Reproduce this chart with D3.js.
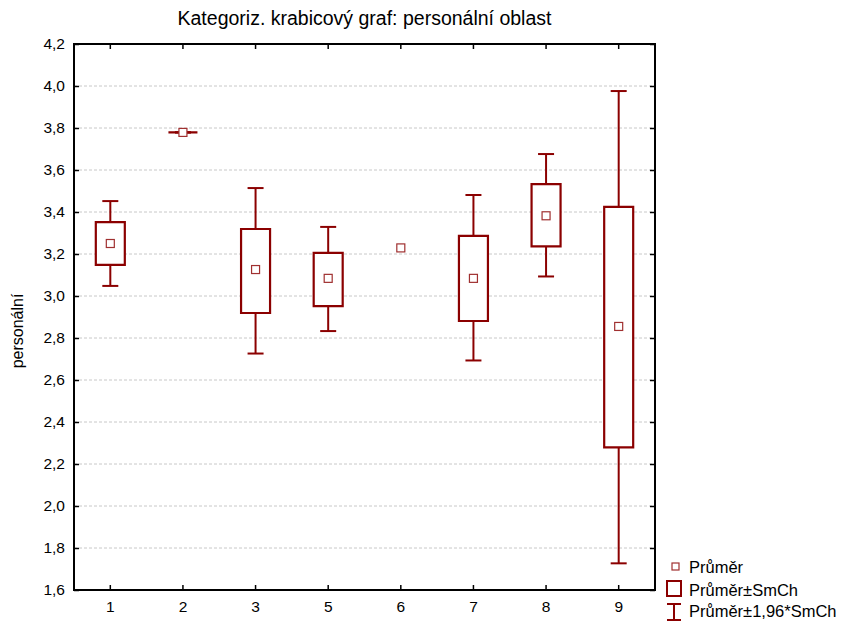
<!DOCTYPE html>
<html><head><meta charset="utf-8">
<script src="https://cdn.jsdelivr.net/npm/d3@7"></script>
<style>body{margin:0;background:#fff}svg{display:block}text{font-family:"Liberation Sans",Arial,sans-serif}</style>
</head><body>
<svg id="c" width="844" height="623"></svg>
<script>
const categories = ["1","2","3","5","6","7","8","9"];
const means   = [3.250, 3.779, 3.126, 3.084, 3.229, 3.084, 3.382, 2.855];
const seLow   = [3.148, 3.779, 2.919, 2.952, null, 2.881, 3.236, 2.279];
const seHigh  = [3.352, 3.779, 3.319, 3.205, null, 3.286, 3.533, 3.424];
const ciLow   = [3.048, 3.779, 2.726, 2.833, null, 2.693, 3.093, 1.727];
const ciHigh  = [3.452, 3.779, 3.514, 3.329, null, 3.481, 3.676, 3.976];
const yTicks  = [1.6,1.8,2.0,2.2,2.4,2.6,2.8,3.0,3.2,3.4,3.6,3.8,4.0,4.2];
const legendLabels = ["Průměr","Průměr±SmCh","Průměr±1,96*SmCh"];

const col = "#8b0000";
const svg = d3.select("#c");
const L=74, R=655, T=44, B=590;
const x = d3.scaleBand().domain(categories).range([L,R]);
const y = d3.scaleLinear().domain([1.6,4.2]).range([B,T]);
const fmt = d => d.toFixed(1).replace(".",",");

// gridlines
svg.append("g").selectAll("line").data(yTicks.slice(1,-1)).join("line")
  .attr("x1",L).attr("x2",R).attr("y1",d=>y(d)).attr("y2",d=>y(d))
  .attr("stroke","#c8c8c8").attr("stroke-width",1).attr("stroke-dasharray","3,2");

// axes (ticks inside)
const ax = (g)=>g.attr("font-family",null).attr("font-size",null)
  .call(s=>s.select(".domain").remove())
  .call(s=>s.selectAll("text").style("font-size","15.5px").attr("fill","#000"))
  .call(s=>s.selectAll("line").attr("stroke","#000").attr("stroke-width",1.5));
svg.append("g").attr("transform",`translate(${L},0)`)
  .call(d3.axisLeft(y).tickValues(yTicks).tickFormat(fmt).tickSizeInner(-5).tickSizeOuter(0).tickPadding(9))
  .call(ax);
svg.append("g").attr("transform",`translate(${R},0)`)
  .call(d3.axisRight(y).tickValues(yTicks).tickFormat("").tickSizeInner(-5).tickSizeOuter(0))
  .call(ax);
svg.append("g").attr("transform",`translate(0,${B})`)
  .call(d3.axisBottom(x).tickSizeInner(-5).tickSizeOuter(0).tickPadding(11))
  .call(ax);
svg.append("g").attr("transform",`translate(0,${T})`)
  .call(d3.axisTop(x).tickFormat("").tickSizeInner(-5).tickSizeOuter(0))
  .call(ax);
svg.append("rect").attr("x",L).attr("y",T).attr("width",R-L).attr("height",B-T)
  .attr("fill","none").attr("stroke","#000").attr("stroke-width",2);

// boxes
const boxW = 29, capW = 16, mk = 8;
const data = categories.map((c,i)=>({c,m:means[i],sl:seLow[i],sh:seHigh[i],cl:ciLow[i],ch:ciHigh[i]}));
const g = svg.append("g");
data.forEach(d=>{
  const cx = x(d.c)+x.bandwidth()/2;
  if(d.sl!==null){
    const st = (s)=>s.attr("stroke",col).attr("stroke-width",2).attr("fill","none");
    g.append("line").attr("x1",cx).attr("x2",cx).attr("y1",y(d.ch)).attr("y2",y(d.sh)).call(st);
    g.append("line").attr("x1",cx).attr("x2",cx).attr("y1",y(d.sl)).attr("y2",y(d.cl)).call(st);
    g.append("line").attr("x1",cx-capW/2).attr("x2",cx+capW/2).attr("y1",y(d.ch)).attr("y2",y(d.ch)).call(st);
    g.append("line").attr("x1",cx-capW/2).attr("x2",cx+capW/2).attr("y1",y(d.cl)).attr("y2",y(d.cl)).call(st);
    const x0=cx-boxW/2, x1=cx+boxW/2, y0=y(d.sh), y1=y(d.sl);
    g.append("path").attr("d",`M${x0},${y0}H${x1}V${y1}H${x0}Z`)
      .attr("fill","#fff").attr("stroke",col).attr("stroke-width",2.2);
  }
  g.append("rect").attr("x",cx-mk/2).attr("y",y(d.m)-mk/2).attr("width",mk).attr("height",mk)
    .attr("fill","#fff").attr("stroke","#a03030").attr("stroke-width",1.2);
});

// title & labels
svg.append("text").attr("x",(L+R)/2).attr("y",25).attr("text-anchor","middle").style("font-size","19.5px").text("Kategoriz. krabicový graf: personální oblast");
svg.append("text").attr("transform","translate(23,331) rotate(-90)").attr("text-anchor","middle").style("font-size","16px").text("personální");

// legend
const lg = svg.append("g");
lg.append("rect").attr("x",672).attr("y",563).attr("width",7).attr("height",7).attr("fill","#fff").attr("stroke","#a03030").attr("stroke-width",1.2);
lg.append("rect").attr("x",667).attr("y",581).attr("width",14).attr("height",15).attr("fill","#fff").attr("stroke",col).attr("stroke-width",2);
lg.append("line").attr("x1",674).attr("x2",674).attr("y1",604).attr("y2",620).attr("stroke",col).attr("stroke-width",2);
lg.append("line").attr("x1",667).attr("x2",681).attr("y1",604).attr("y2",604).attr("stroke",col).attr("stroke-width",2);
lg.append("line").attr("x1",667).attr("x2",681).attr("y1",620).attr("y2",620).attr("stroke",col).attr("stroke-width",2);
lg.selectAll("text").data(legendLabels).join("text").attr("x",689).attr("y",(d,i)=>[573,596,617][i])
  .style("font-size","16.5px").text(d=>d);
</script>
</body></html>
